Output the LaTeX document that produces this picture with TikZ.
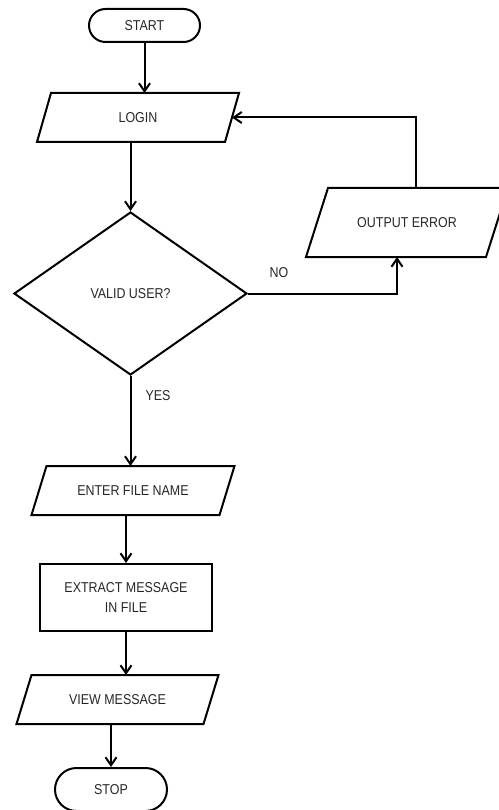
\documentclass[tikz,border=0pt]{standalone}
\usepackage{fontspec}
\setmainfont{Liberation Sans}[FakeStretch=0.87]
\usetikzlibrary{shapes.geometric,shapes.misc,arrows.meta}
\begin{document}
\begin{tikzpicture}[x=1pt,y=-1pt, line width=2pt,
  every node/.style={font=\fontsize{14.3}{20}\selectfont, text=black!85},
  term/.style={draw, rounded rectangle, minimum width=111pt, minimum height=33pt, inner sep=0pt},
  io/.style={rectangle, minimum width=186pt, minimum height=47pt, inner sep=0pt},
  procbox/.style={draw, rectangle, minimum width=172pt, minimum height=67pt, inner sep=0pt, align=center},
  decide/.style={draw, diamond, aspect=1.43, minimum width=233pt, minimum height=163pt, inner sep=0pt},
  lbl/.style={inner sep=0pt},
  arr/.style={-{Straight Barb[length=8pt,width=11pt]}},
  para/.style={line join=miter}
]
\useasboundingbox (0,0) rectangle (498,810);

\node[term] (start) at (144.5,25.5) {START};
\node[io] (login) at (138,117.5) {LOGIN};
\node[decide] (valid) at (130.5,293.5) {VALID USER?};
\node[io, minimum width=178pt, minimum height=67pt] (error) at (407,222.5) {OUTPUT ERROR};
\node[io] (enter) at (133,490.5) {ENTER FILE NAME};
\node[procbox] (extract) at (126,597.5) {EXTRACT MESSAGE\\IN FILE};
\node[io, minimum width=185pt] (view) at (117.5,699.5) {VIEW MESSAGE};
\node[term, minimum width=112pt, minimum height=43pt] (stop) at (111,789.5) {STOP};

% parallelogram outlines
\foreach \n/\s in {login/7, enter/7.5, view/7.5, error/11}{
  \draw[para] ([xshift=\s pt]\n.north west) -- ([xshift=\s pt]\n.north east)
     -- ([xshift=-\s pt]\n.south east) -- ([xshift=-\s pt]\n.south west) -- cycle;
}

\node[lbl] (nolbl) at (279,273) {NO};
\node[lbl] (yeslbl) at (158,396) {YES};

\draw[arr] (start.south) -- (start.south |- login.north);
\draw[arr] (login.south -| valid.north) -- (valid.north);
\draw[arr] (valid.east) -| ([xshift=-10pt]error.south);
\draw[arr] ([xshift=9pt]error.north) |- (login.east);
\draw[arr] (valid.south) -- (valid.south |- enter.north);
\draw[arr] (enter.south -| extract.north) -- (extract.north);
\draw[arr] (extract.south) -- (extract.south |- view.north);
\draw[arr] (view.south -| stop.north) -- (stop.north);
\end{tikzpicture}
\end{document}
